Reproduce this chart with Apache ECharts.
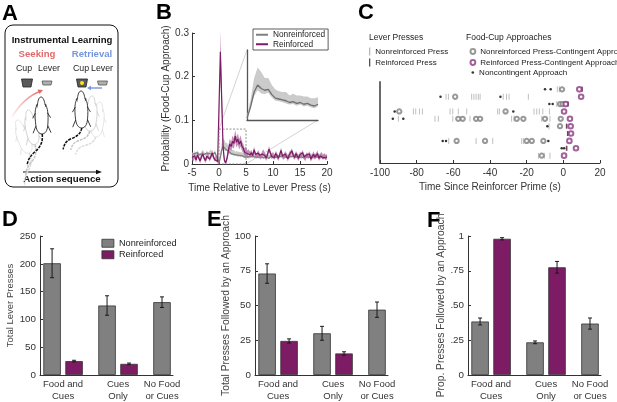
<!DOCTYPE html>
<html><head><meta charset="utf-8">
<script src="https://cdn.jsdelivr.net/npm/echarts@6/dist/echarts.min.js"></script>
<style>
html,body{margin:0;padding:0;background:#fff;width:617px;height:402px;overflow:hidden;}
#top{position:absolute;left:0;top:0;width:617px;height:200px;}
#bot{position:absolute;left:0;top:200px;width:617px;height:202px;}
</style>
</head><body><div id="top"></div><div id="bot"></div>
<script>
const FONT = '"Liberation Sans", Arial, sans-serif';
const GRAY = '#808080', PURPLE = '#7d1b64';

// ---------- Panel B data (time relative to lever press, 0.25 s bins) ----------
const bTimeStart = -5, bTimeStep = 0.25;
const nonreinfMean = [0.022,0.019,0.024,0.020,0.026,0.021,0.018,0.023,0.027,0.022,0.019,0.025,0.021,0.024,0.028,0.022,0.020,0.026,0.018,0.012,
 0.002,0.015,0.032,0.040,0.036,0.034,0.035,0.029,0.025,0.024,0.023,0.022,0.020,0.021,0.019,0.020,0.018,0.019,0.017,0.016,0.018,
 0.016,0.014,0.017,0.015,0.018,0.014,0.016,0.019,0.015,0.013,
 0.017,0.016,0.014,0.018,0.015,0.017,0.013,0.016,0.019,0.015,
 0.014,0.017,0.016,0.013,0.018,0.015,0.017,0.014,0.016,0.019,
 0.015,0.013,0.017,0.015,0.018,0.014,0.016,0.015,0.017,0.014,
 0.016,0.018,0.014,0.015,0.017,0.013,0.016,0.018,0.015,0.014,
 0.017,0.015,0.016,0.014,0.018,0.015,0.013,0.017,0.016,0.015];
const nonreinfSem = [0.005,0.005,0.006,0.005,0.005,0.006,0.005,0.005,0.006,0.005,0.005,0.006,0.005,0.005,0.006,0.005,0.005,0.006,0.005,0.004,
 0.003,0.008,0.016,0.020,0.019,0.014,0.013,0.011,0.010,0.009,0.009,0.010,0.008,0.009,0.009,0.008,0.009,0.008,0.008,0.009,0.008,
 0.007,0.006,0.007,0.006,0.007,0.006,0.007,0.006,0.007,0.006,
 0.006,0.007,0.006,0.007,0.006,0.006,0.007,0.006,0.007,0.006,
 0.007,0.006,0.006,0.007,0.006,0.007,0.006,0.006,0.007,0.006,
 0.006,0.007,0.006,0.006,0.007,0.006,0.007,0.006,0.006,0.007,
 0.006,0.006,0.007,0.006,0.007,0.006,0.006,0.007,0.006,0.006,
 0.007,0.006,0.006,0.007,0.006,0.006,0.007,0.006,0.006,0.006];
const reinfMean = [0.015,0.011,0.019,0.009,0.021,0.014,0.007,0.017,0.023,0.013,0.008,0.018,0.020,0.011,0.017,0.025,0.015,0.010,0.014,0.006,
 0.004,0.257,0.150,0.040,0.008,0.003,0.014,0.032,0.046,0.040,0.052,0.047,0.064,0.050,0.057,0.045,0.053,0.041,0.036,0.027,0.031,
 0.024,0.028,0.021,0.026,0.019,0.033,0.022,0.018,0.025,0.020,
 0.016,0.023,0.027,0.019,0.014,0.022,0.034,0.026,0.017,0.021,
 0.015,0.024,0.019,0.013,0.022,0.031,0.018,0.016,0.023,0.019,
 0.012,0.021,0.025,0.030,0.020,0.015,0.024,0.018,0.013,0.022,
 0.019,0.026,0.016,0.014,0.021,0.018,0.023,0.011,0.017,0.022,
 0.016,0.020,0.024,0.013,0.018,0.021,0.015,0.019,0.014,0.017];
const reinfSem = [0.006,0.005,0.007,0.006,0.006,0.005,0.006,0.007,0.006,0.005,0.006,0.007,0.006,0.005,0.006,0.007,0.006,0.005,0.006,0.005,
 0.004,0.050,0.035,0.015,0.006,0.004,0.008,0.011,0.012,0.011,0.013,0.012,0.014,0.012,0.013,0.012,0.013,0.011,0.010,0.009,0.009,
 0.007,0.006,0.007,0.006,0.006,0.007,0.006,0.006,0.007,0.006,
 0.006,0.007,0.006,0.006,0.007,0.006,0.007,0.006,0.006,0.007,
 0.006,0.006,0.007,0.006,0.006,0.007,0.006,0.006,0.007,0.006,
 0.006,0.007,0.006,0.006,0.007,0.006,0.006,0.007,0.006,0.006,
 0.007,0.006,0.006,0.007,0.006,0.006,0.007,0.006,0.006,0.007,
 0.006,0.006,0.007,0.006,0.006,0.007,0.006,0.006,0.006,0.006];
const bXTicks = [-5, 0, 5, 10, 15, 20];
const bYTicks = [0, 0.1, 0.2, 0.3];
const insetBox = [0, 5, 0, 0.08]; // tmin, tmax, ymin, ymax of the zoomed region

// ---------- Panel C data: [seconds since reinforcer prime, trial row] ----------
const cNonreinfPress = [[-3.3,1],[-2.2,1],
 [-64,2],[-62.7,2],[-50,2],[-48.8,2],[-47.6,2],[-46.4,2],[-45.4,2],[-32.8,2],[-31,2],[-29.6,2],[-19.1,2],
 [-3.6,3],
 [-81.8,4],[-80.5,4],[-78.5,4],[-76.9,4],[-61.8,4],[-60.3,4],[-57.3,4],[-52.7,4],[-35.8,4],[-34.9,4],[-16,4],[-14.5,4],[-13.1,4],[-11.2,4],[-7.6,4],
 [-90,5],[-70,5],[-68.2,5],[-60.3,5],[-50.9,5],[-28.2,5],[-26.9,5],[-11.8,5],[-7.3,5],
 [-7.8,6],
 [-62.5,8],[-47.6,8],[-38.5,8],[-22.7,8],[-21.8,8],
 [-13.6,10],[-10.4,10],[-7.3,10]];
const cReinfPress = [[10.2,1],[2.5,3],[1.8,6],[2.4,7],[1.8,9]];
const cNonreinfApproach = [[-0.7,1],[-59,2],[-1.8,3],[-0.4,3],[-89.5,4],[-31.5,4],
 [-57.3,5],[-54.9,5],[-47.6,5],[-45.4,5],[-25.4,5],[-21.8,5],[-10,5],[-1.4,5],
 [-1.8,6],[-58.2,8],[-42.7,8],[-20,8],[-17.2,8],[-10.9,8],[-11.8,10]];
const cReinfApproach = [[8.7,1],[9.7,2],[1.3,3],[0.4,4],[3.6,5],[4,6],[4.2,7],[3.3,8],[6.9,9],[0.4,10]];
const cNoncontingent = [[-10,1],[-6.9,1],[-67,2],[-34.3,2],[-7.6,3],[-5.8,3],[-92,4],[-27.3,4],
 [-93,5],[-87.3,5],[-8.7,6],[-65.8,8],[-64,8],[-8.2,8],[-0.9,9],[0.4,9]];
const cXTicks = [-100,-80,-60,-40,-20,0,20];

// ---------- Panels D-F data ----------
const groupLabels = ['Food and\nCues', 'Cues\nOnly', 'No Food\nor Cues'];
const dNonreinf = [201, 125, 131], dNonreinfErr = [26, 17.5, 9.5];
const dReinf = [25, 20], dReinfErr = [1.5, 1.5];
const eNonreinf = [73, 30, 47], eNonreinfErr = [7, 5, 5.5];
const eReinf = [24.5, 15.5], eReinfErr = [1.5, 1.2];
const fNonreinf = [0.385, 0.235, 0.37], fNonreinfErr = [0.025, 0.01, 0.04];
const fReinf = [0.98, 0.775], fReinfErr = [0.008, 0.042];

// =================== TOP CHART (A, B, C) ===================
const tB = nonreinfMean.map((_, i) => bTimeStart + i * bTimeStep);
const bandFn = (ts, lo, hi, color) => (params, api) => {
  const pts = [];
  for (let i = 0; i < ts.length; i++) pts.push(api.coord([ts[i], hi[i]]));
  for (let i = ts.length - 1; i >= 0; i--) pts.push(api.coord([ts[i], lo[i]]));
  return {type: 'polygon', shape: {points: pts}, style: {fill: color}};
};
const grayLo = nonreinfMean.map((m, i) => m - 0.3 * nonreinfSem[i]);
const grayHi = nonreinfMean.map((m, i) => m + nonreinfSem[i]);
const purLo = reinfMean.map((m, i) => Math.max(0, m - reinfSem[i]));
const purHi = reinfMean.map((m, i) => m + reinfSem[i]);
const inIdx = tB.map((t, i) => i).filter(i => tB[i] >= insetBox[0] && tB[i] <= insetBox[1]);
const tIn = inIdx.map(i => tB[i]);

const axText = {color: '#333', fontSize: 10, fontFamily: FONT};
const axLine = {show: true, onZero: false, lineStyle: {color: '#333', width: 1}};

// rat outline (top view, nose at origin, pointing up)
const ratBody = 'M0,0 C2.5,0 3.5,5 3.8,8 C6.5,10 7,18 6,28 C5.5,34 3,37 0,37 C-3,37 -5.5,34 -6,28 C-7,18 -6.5,10 -3.8,8 C-3.5,5 -2.5,0 0,0 Z M-3.8,8 C-5,6.5 -5.5,9 -3.6,10 M3.8,8 C5,6.5 5.5,9 3.6,10 M-6,16 L-9,21 M6,16 L9,21 M-6,29 L-9,36 M6,29 L9,36';
const tailLeft = 'M0,37 C1,44 -2,50 -7,54 C-12,58 -15,62 -16,68';
const tailRight = 'M0,37 C-1,43 -6,46 -12,48 C-16,50 -18,53 -19,58';
function rat(x, y, s, rot, col, w, tail) {
  return {type: 'group', x: x, y: y, scaleX: s, scaleY: s, rotation: rot, children: [
    {type: 'path', shape: {pathData: tail}, style: {fill: null, stroke: col, lineWidth: 1.5 / s, lineDash: [3, 1]}},
    {type: 'path', shape: {pathData: ratBody}, style: {fill: '#fff', stroke: col, lineWidth: w / s}}
  ]};
}
const ratItems = [
  rat(17, 120, 0.95, 0.35, '#dcdcdc', 0.7, tailLeft),
  rat(28, 110, 0.95, 0.2, '#c4c4c4', 0.7, tailLeft),
  rat(41, 97, 1.0, 0.03, '#111', 0.8, tailLeft),
  rat(100, 102, 0.95, -0.12, '#dcdcdc', 0.7, tailRight),
  rat(92, 96, 0.95, -0.06, '#c4c4c4', 0.7, tailRight),
  rat(81, 91, 1.0, 0.02, '#111', 0.8, tailRight)
];
const txt = (x, y, t, o) => ({type: 'text', x: x, y: y, style: Object.assign({text: t, fontFamily: FONT, fontSize: 9, fill: '#222', align: 'left', verticalAlign: 'middle'}, o || {})});

const panelA = [
  {type: 'rect', z: -1, shape: {x: 5, y: 25, width: 113, height: 162, r: 8}, style: {fill: '#fff', stroke: '#111', lineWidth: 1}},
  txt(62, 40, 'Instrumental Learning', {fontWeight: 'bold', fontSize: 9.6, align: 'center', fill: '#111'}),
  txt(37, 54, 'Seeking', {fontWeight: 'bold', fontSize: 9.6, align: 'center', fill: '#e06a6a'}),
  txt(92, 54, 'Retrieval', {fontWeight: 'bold', fontSize: 9.6, align: 'center', fill: '#7696dc'}),
  txt(24, 69, 'Cup', {align: 'center', fontSize: 8.8}),
  txt(49, 69, 'Lever', {align: 'center', fontSize: 8.8}),
  txt(81, 69, 'Cup', {align: 'center', fontSize: 8.8}),
  txt(102, 69, 'Lever', {align: 'center', fontSize: 8.8}),
  {type: 'polygon', shape: {points: [[21.5, 79], [32.5, 79], [31, 87], [23, 87]]}, style: {fill: '#5a5a5a', stroke: '#222', lineWidth: 0.8}},
  {type: 'polygon', shape: {points: [[42, 81], [52, 81], [51, 85], [43, 85]]}, style: {fill: '#b0b0b0', stroke: '#555', lineWidth: 0.8}},
  {type: 'polygon', shape: {points: [[76.5, 79], [87.5, 79], [86, 87], [78, 87]]}, style: {fill: '#5a5a5a', stroke: '#222', lineWidth: 0.8}},
  {type: 'circle', shape: {cx: 82, cy: 83, r: 2}, style: {fill: '#ffe21a'}},
  {type: 'polygon', shape: {points: [[97.5, 81], [107.5, 81], [106.5, 85], [98.5, 85]]}, style: {fill: '#b0b0b0', stroke: '#555', lineWidth: 0.8}},
  {type: 'line', shape: {x1: 23, y1: 172, x2: 98, y2: 172}, style: {stroke: '#111', lineWidth: 1.2}},
  {type: 'polygon', shape: {points: [[102, 172], [96, 169.8], [96, 174.2]]}, style: {fill: '#111'}},
  txt(62, 179.5, 'Action sequence', {fontWeight: 'bold', fontSize: 9.7, align: 'center', fill: '#111'})
];
const arrowsA = [
  {type: 'bezierCurve', shape: {x1: 12, y1: 117, cpx1: 24, cpy1: 97, x2: 41, y2: 91}, style: {fill: null, lineWidth: 1.6,
    stroke: new echarts.graphic.LinearGradient(0, 1, 1, 0, [{offset: 0, color: 'rgba(224,106,106,0)'}, {offset: 1, color: 'rgba(224,106,106,1)'}])}},
  {type: 'polygon', shape: {points: [[43, 90], [37.5, 89.5], [39.5, 94]]}, style: {fill: '#e06a6a'}},
  {type: 'line', shape: {x1: 102, y1: 88, x2: 89, y2: 88}, style: {stroke: '#7696dc', lineWidth: 1.4}},
  {type: 'polygon', shape: {points: [[87, 88], [91, 85.8], [91, 90.2]]}, style: {fill: '#7696dc'}}
];
const letters = [
  txt(2, 14, 'A', {fontWeight: 'bold', fontSize: 22, fill: '#000'}),
  txt(156, 12.5, 'B', {fontWeight: 'bold', fontSize: 22, fill: '#000'}),
  txt(358, 13, 'C', {fontWeight: 'bold', fontSize: 22, fill: '#000'}),
  txt(369, 38, 'Lever Presses', {fontSize: 8.5}),
  txt(466, 38, 'Food-Cup Approaches', {fontSize: 8.5})
];

const topOpt = {
  animation: false,
  textStyle: {fontFamily: FONT},
  graphic: {elements: panelA.concat(letters)},
  grid: [
    {left: 192, top: 33, width: 135, height: 131},
    {left: 247, top: 50, width: 71, height: 70},
    {left: 380, top: 82, width: 220, height: 81}
  ],
  xAxis: [
    {gridIndex: 0, type: 'value', min: bXTicks[0], max: bXTicks[bXTicks.length - 1], interval: 5,
     axisLine: axLine, axisTick: {show: true, inside: true, length: 3, lineStyle: {color: '#333'}},
     axisLabel: Object.assign({margin: 4}, axText), splitLine: {show: false},
     name: 'Time Relative to Lever Press (s)', nameLocation: 'middle', nameGap: 15,
     nameTextStyle: {fontSize: 10, color: '#333', fontFamily: FONT}},
    {gridIndex: 1, type: 'value', min: insetBox[0], max: insetBox[1], axisLine: {show: true, onZero: false, lineStyle: {color: '#555', width: 1.3}},
     axisTick: {show: false}, axisLabel: {show: false}, splitLine: {show: false}},
    {gridIndex: 2, type: 'value', min: cXTicks[0], max: cXTicks[cXTicks.length - 1], interval: 20,
     axisLine: axLine, axisTick: {show: true, inside: true, length: 3, lineStyle: {color: '#333'}},
     axisLabel: Object.assign({margin: 5}, axText), splitLine: {show: false},
     name: 'Time Since Reinforcer Prime (s)', nameLocation: 'middle', nameGap: 19,
     nameTextStyle: {fontSize: 10, color: '#333', fontFamily: FONT}}
  ],
  yAxis: [
    {gridIndex: 0, type: 'value', min: bYTicks[0], max: bYTicks[bYTicks.length - 1], interval: 0.1,
     axisLine: axLine, axisTick: {show: true, inside: true, length: 3, lineStyle: {color: '#333'}},
     axisLabel: Object.assign({margin: 3, formatter: v => v === 0 ? '0' : v.toFixed(1)}, axText), splitLine: {show: false},
     name: 'Probability (Food-Cup Approach)', nameLocation: 'middle', nameGap: 15, nameRotate: 90,
     nameTextStyle: {fontSize: 10, color: '#333', fontFamily: FONT}},
    {gridIndex: 1, type: 'value', min: insetBox[2], max: insetBox[3], axisLine: {show: true, onZero: false, lineStyle: {color: '#555', width: 1.3}},
     axisTick: {show: false}, axisLabel: {show: false}, splitLine: {show: false}},
    {gridIndex: 2, type: 'value', min: 0, max: 11, inverse: true,
     axisLine: {show: true, onZero: false, lineStyle: {color: '#6a6a6a', width: 2}}, axisTick: {show: false}, axisLabel: {show: false}, splitLine: {show: false}}
  ],
  legend: [
    {left: 253, top: 29, orient: 'vertical', data: ['Nonreinforced', 'Reinforced'], icon: 'rect', itemWidth: 12, itemHeight: 2,
     itemGap: 1, padding: [1.5, 3, 1.5, 3], borderColor: '#333', borderWidth: 0.8, backgroundColor: '#fff',
     textStyle: {fontSize: 8.3, color: '#222', fontFamily: FONT, lineHeight: 8.5}},
    {left: 369, top: 46, orient: 'vertical', data: [{name: 'Nonreinforced Press', icon: 'rect'}, {name: 'Reinforced Press', icon: 'rect'}],
     itemWidth: 1.3, itemHeight: 8, itemGap: 0, padding: 0, textStyle: {fontSize: 8, color: '#222', fontFamily: FONT, lineHeight: 11}},
    {left: 469.5, top: 46, orient: 'vertical', data: [{name: 'Nonreinforced Press-Contingent Approach', icon: 'emptyCircle'}, {name: 'Reinforced Press-Contingent Approach', icon: 'emptyCircle'}],
     itemWidth: 4.8, itemHeight: 4.8, itemGap: 0, padding: 0, itemStyle: {borderWidth: 0.9},
     textStyle: {fontSize: 8, color: '#222', fontFamily: FONT, lineHeight: 11}},
    {left: 471.5, top: 67, orient: 'vertical', data: [{name: 'Noncontingent Approach', icon: 'circle'}],
     itemWidth: 2.6, itemHeight: 2.6, itemGap: 0, padding: 0, textStyle: {fontSize: 8, color: '#222', fontFamily: FONT, lineHeight: 11}}
  ],
  series: [
    {type: 'custom', name: 'panelA', coordinateSystem: 'none', silent: true, z: 3, data: [[0]],
     renderItem: () => ({type: 'group', children: ratItems.concat(arrowsA)})},
    {type: 'custom', name: 'grayBand', xAxisIndex: 0, yAxisIndex: 0, silent: true, z: 1, data: [[tB[0], grayLo[0]]],
     renderItem: bandFn(tB, grayLo, grayHi, '#cbcbcb')},
    {type: 'line', name: 'Nonreinforced', xAxisIndex: 0, yAxisIndex: 0, showSymbol: false, symbol: 'none', z: 2,
     data: tB.map((t, i) => [t, nonreinfMean[i]]), color: '#7f7f7f', lineStyle: {color: '#7f7f7f', width: 1.3}},
    {type: 'custom', name: 'purpleBand', xAxisIndex: 0, yAxisIndex: 0, silent: true, z: 3, data: [[tB[0], purLo[0]]],
     renderItem: bandFn(tB, purLo, purHi, 'rgba(176,110,160,0.75)')},
    {type: 'line', name: 'Reinforced', xAxisIndex: 0, yAxisIndex: 0, showSymbol: false, symbol: 'none', z: 4,
     data: tB.map((t, i) => [t, reinfMean[i]]), color: PURPLE, lineStyle: {color: PURPLE, width: 1.2}},
    {type: 'custom', name: 'zoomBox', xAxisIndex: 0, yAxisIndex: 0, silent: true, z: 5, data: [[insetBox[0], insetBox[2]]],
     renderItem: (p, api) => {
       const a = api.coord([insetBox[0], insetBox[3]]), b = api.coord([insetBox[1], insetBox[2]]);
       return {type: 'rect', shape: {x: a[0], y: a[1], width: b[0] - a[0], height: b[1] - a[1]},
         style: {fill: null, stroke: '#777', lineWidth: 0.8, lineDash: [2, 1.5]}};
     }},
    {type: 'custom', name: 'insetBand', xAxisIndex: 1, yAxisIndex: 1, silent: true, z: 1, data: [[tIn[0], 0]],
     renderItem: bandFn(tIn, inIdx.map(i => grayLo[i]), inIdx.map(i => grayHi[i]), '#cbcbcb')},
    {type: 'line', name: 'Nonreinforced (inset)', xAxisIndex: 1, yAxisIndex: 1, showSymbol: false, symbol: 'none', z: 2,
     data: inIdx.map(i => [tB[i], nonreinfMean[i]]), lineStyle: {color: '#6f6f6f', width: 1.3}},
    {type: 'scatter', name: 'Nonreinforced Press', xAxisIndex: 2, yAxisIndex: 2, symbol: 'rect', symbolSize: [0.9, 6],
     data: cNonreinfPress, itemStyle: {color: '#a8a8a8'}},
    {type: 'scatter', name: 'Reinforced Press', xAxisIndex: 2, yAxisIndex: 2, symbol: 'rect', symbolSize: [1.6, 5],
     data: cReinfPress, itemStyle: {color: '#4a0f3a'}},
    {type: 'scatter', name: 'Nonreinforced Press-Contingent Approach', xAxisIndex: 2, yAxisIndex: 2, symbol: 'emptyCircle', symbolSize: 4.3,
     data: cNonreinfApproach, itemStyle: {color: '#808080', borderColor: '#808080', borderWidth: 0.75}},
    {type: 'scatter', name: 'Reinforced Press-Contingent Approach', xAxisIndex: 2, yAxisIndex: 2, symbol: 'emptyCircle', symbolSize: 4.6,
     data: cReinfApproach, itemStyle: {color: '#8c3a80', borderColor: '#8c3a80', borderWidth: 1.3}},
    {type: 'scatter', name: 'Noncontingent Approach', xAxisIndex: 2, yAxisIndex: 2, symbol: 'circle', symbolSize: 2.5,
     data: cNoncontingent, itemStyle: {color: '#000'}}
  ]
};
const topChart = echarts.init(document.getElementById('top'));
topChart.setOption(topOpt);
// zoom connector lines between the dashed box in B and the inset
const pTL = topChart.convertToPixel({xAxisIndex: 0, yAxisIndex: 0}, [insetBox[0], insetBox[3]]);
const pBR = topChart.convertToPixel({xAxisIndex: 0, yAxisIndex: 0}, [insetBox[1], insetBox[2]]);
const iTL = topChart.convertToPixel({xAxisIndex: 1, yAxisIndex: 1}, [insetBox[0], insetBox[3]]);
const iBR = topChart.convertToPixel({xAxisIndex: 1, yAxisIndex: 1}, [insetBox[1], insetBox[2]]);
topChart.setOption({graphic: {elements: [
  {id: 'zl1', type: 'line', z: 0, shape: {x1: pTL[0], y1: pTL[1], x2: iTL[0], y2: iTL[1]}, style: {stroke: '#c8c8c8', lineWidth: 0.8}},
  {id: 'zl2', type: 'line', z: 0, shape: {x1: pBR[0], y1: pBR[1], x2: iBR[0], y2: iBR[1]}, style: {stroke: '#c8c8c8', lineWidth: 0.8}}
]}});

// =================== BOTTOM CHART (D, E, F) ===================
const xMin = 0.78, xMax = 3.2, offs = 0.4;
const labelPos = [1 + offs / 2, 2 + offs / 2, 3];
const panels = [
  {left: 40, nonreinf: dNonreinf, nonErr: dNonreinfErr, reinf: dReinf, reErr: dReinfErr, max: 250, interval: 50,
   name: 'Total Lever Presses', nameGap: 22, nameSize: 9.5, fmt: v => String(v)},
  {left: 255, nonreinf: eNonreinf, nonErr: eNonreinfErr, reinf: eReinf, reErr: eReinfErr, max: 100, interval: 25,
   name: 'Total Presses Followed by an Approach', nameGap: 20, nameSize: 10.3, fmt: v => String(v)},
  {left: 468, nonreinf: fNonreinf, nonErr: fNonreinfErr, reinf: fReinf, reErr: fReinfErr, max: 1, interval: 0.25,
   name: 'Prop. Presses Followed by an Approach', nameGap: 20, nameSize: 10.3,
   fmt: v => v === 0 ? '0' : v === 1 ? '1' : '.' + String(Math.round(v * 100)).padStart(2, '0')}
];
const errRender = (p, api) => {
  const x = api.value(0), lo = api.value(1), hi = api.value(2);
  const a = api.coord([x, lo]), b = api.coord([x, hi]);
  const w = 2, st = {stroke: '#1a1a1a', lineWidth: 1};
  return {type: 'group', children: [
    {type: 'line', shape: {x1: a[0], y1: a[1], x2: b[0], y2: b[1]}, style: st},
    {type: 'line', shape: {x1: a[0] - w, y1: a[1], x2: a[0] + w, y2: a[1]}, style: st},
    {type: 'line', shape: {x1: b[0] - w, y1: b[1], x2: b[0] + w, y2: b[1]}, style: st}
  ]};
};
const botOpt = {
  animation: false,
  textStyle: {fontFamily: FONT},
  graphic: {elements: [
    txt(2, 20, 'D', {fontWeight: 'bold', fontSize: 22, fill: '#000'}),
    txt(207, 20, 'E', {fontWeight: 'bold', fontSize: 22, fill: '#000'}),
    txt(427, 20.5, 'F', {fontWeight: 'bold', fontSize: 22, fill: '#000'})
  ]},
  legend: {left: 101.5, top: 38, orient: 'vertical', data: ['Nonreinforced', 'Reinforced'], icon: 'rect',
    itemWidth: 12, itemHeight: 8, itemGap: 1, padding: 0,
    itemStyle: {borderColor: '#333', borderWidth: 0.8},
    textStyle: {fontSize: 9.2, color: '#222', fontFamily: FONT, lineHeight: 10.5}},
  grid: panels.map(p => ({left: p.left, top: 36, width: 133, height: 140})),
  xAxis: panels.map((p, i) => ({gridIndex: i, type: 'value', min: xMin, max: xMax, splitLine: {show: false},
    axisLine: axLine, axisTick: {show: false},
    axisLabel: {customValues: labelPos, margin: 3, fontSize: 9.5, lineHeight: 12, color: '#333', fontFamily: FONT,
      formatter: v => groupLabels[labelPos.findIndex(q => Math.abs(q - v) < 1e-6)] || ''}})),
  yAxis: panels.map((p, i) => ({gridIndex: i, type: 'value', min: 0, max: p.max, interval: p.interval, splitLine: {show: false},
    axisLine: axLine, axisTick: {show: true, inside: true, length: 3, lineStyle: {color: '#333'}},
    axisLabel: {margin: 4, fontSize: 9.8, color: '#333', fontFamily: FONT, formatter: p.fmt},
    name: p.name, nameLocation: 'middle', nameRotate: 90, nameGap: p.nameGap,
    nameTextStyle: {fontSize: p.nameSize, color: '#444', fontFamily: FONT}})),
  series: []
};
panels.forEach((p, i) => {
  botOpt.series.push(
    {type: 'bar', name: 'Nonreinforced', xAxisIndex: i, yAxisIndex: i, barWidth: 17.5, barGap: '-100%',
     data: p.nonreinf.map((v, k) => [k + 1, v]), itemStyle: {color: GRAY, borderColor: '#333', borderWidth: 0.8}},
    {type: 'bar', name: 'Reinforced', xAxisIndex: i, yAxisIndex: i, barWidth: 17.5, barGap: '-100%',
     data: p.reinf.map((v, k) => [k + 1 + offs, v]), itemStyle: {color: PURPLE, borderColor: '#333', borderWidth: 0.8}},
    {type: 'custom', name: 'errN' + i, xAxisIndex: i, yAxisIndex: i, silent: true, z: 5, encode: {x: 0, y: [1, 2]},
     data: p.nonreinf.map((v, k) => [k + 1, v - p.nonErr[k], v + p.nonErr[k]]), renderItem: errRender},
    {type: 'custom', name: 'errR' + i, xAxisIndex: i, yAxisIndex: i, silent: true, z: 5, encode: {x: 0, y: [1, 2]},
     data: p.reinf.map((v, k) => [k + 1 + offs, v - p.reErr[k], v + p.reErr[k]]), renderItem: errRender}
  );
});
const botChart = echarts.init(document.getElementById('bot'));
botChart.setOption(botOpt);
</script></body></html>
